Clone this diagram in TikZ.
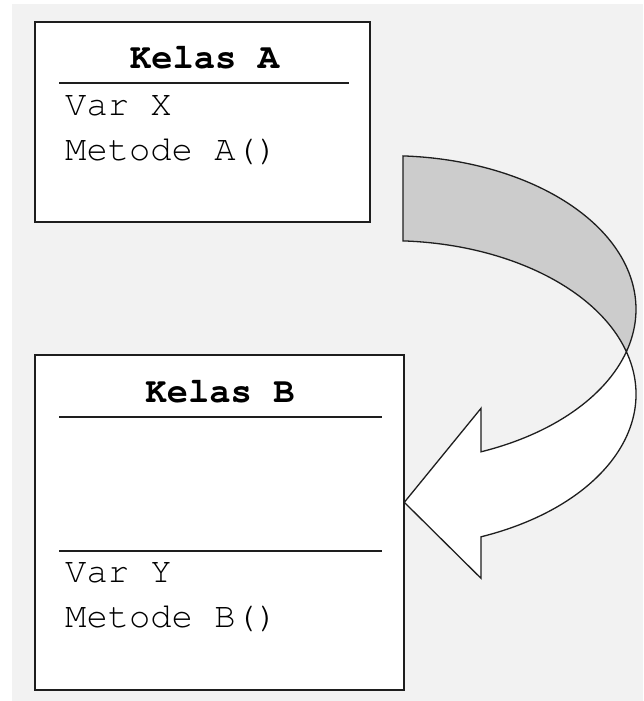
\documentclass[tikz,border=0pt]{standalone}
\usepackage[T1]{fontenc}
\usepackage{courier}
\definecolor{bgray}{RGB}{242,242,242}
\definecolor{backgray}{RGB}{204,204,204}
\definecolor{inkline}{RGB}{30,30,30}
\begin{document}
\begin{tikzpicture}[x=1pt,y=1pt,
  classbox/.style={draw=inkline, line width=2pt, fill=white, inner sep=0pt, rectangle},
  sepline/.style={draw=inkline, line width=1.8pt},
  hdr/.style={font=\ttfamily\bfseries\fontsize{35.5}{40}\selectfont, inner sep=0pt, anchor=base},
  attr/.style={font=\ttfamily\fontsize{35.5}{40}\selectfont, inner sep=0pt, anchor=base west},
  arrowline/.style={draw=inkline, line width=1.3pt, line join=miter},
  ell/.style={x radius=246pt, y radius=153.5pt}
]
\useasboundingbox (0,0) rectangle (643,-701);
\fill[bgray] (12,-4) rectangle (643,-701);

% class boxes
\node[classbox, minimum width=335pt, minimum height=200pt] (boxA) at (202.5,-122) {};
\node[classbox, minimum width=369pt, minimum height=335pt] (boxB) at (219.5,-522.5) {};

% texts of class A
\node[hdr] (tA) at (204.5,-68.3) {Kelas A};
\coordinate (a1) at (59,-83);
\coordinate (a2) at (349,-83);
\draw[sepline] (a1) -- (a2);
\node[attr] (varX) at (65,-115) {Var X};
\node[attr] (metA) at (65,-160) {Metode A()};

% texts of class B
\node[hdr] (tB) at (220,-402.3) {Kelas B};
\coordinate (b1) at (59,-417);
\coordinate (b2) at (382,-417);
\coordinate (b3) at (59,-551);
\coordinate (b4) at (382,-551);
\draw[sepline] (b1) -- (b2);
\draw[sepline] (b3) -- (b4);
\node[attr] (varY) at (65,-582.3) {Var Y};
\node[attr] (metB) at (65,-627.3) {Metode B()};

% curved arrow
\coordinate (c1) at (390,-309.2);
\coordinate (c2) at (390,-394.2);
\coordinate (tipP) at (404.3,-502.3);
\coordinate (barbU) at (481,-408.3);
\coordinate (barbL) at (481,-578.3);

% back face (grey)
\path[arrowline, fill=backgray]
  ([shift={(c1)}]86.97:246pt and 153.5pt)
  arc[ell, start angle=86.97, end angle=-16.07]
  arc[ell, start angle=16.07, end angle=86.97]
  -- cycle;

% front face (white) with arrow head
\path[arrowline, fill=white]
  ([shift={(c2)}]16.07:246pt and 153.5pt)
  arc[ell, start angle=16.07, end angle=-68.29]
  -- (barbL) -- (tipP) -- (barbU)
  -- ([shift={(c1)}]-68.29:246pt and 153.5pt)
  arc[ell, start angle=-68.29, end angle=-16.07]
  -- cycle;
\end{tikzpicture}
\end{document}
